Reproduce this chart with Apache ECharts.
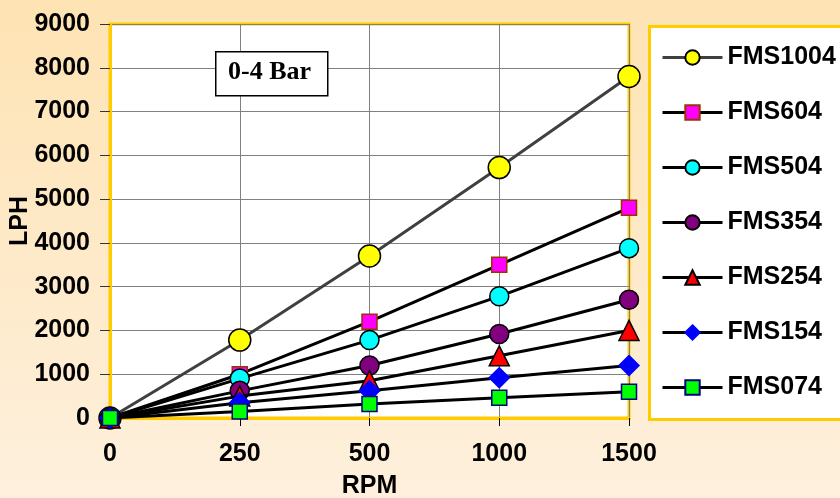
<!DOCTYPE html>
<html><head><meta charset="utf-8">
<script src="https://cdn.jsdelivr.net/npm/echarts@6/dist/echarts.min.js"></script>
<style>html,body{margin:0;padding:0;}#c{width:840px;height:498px;}</style>
</head><body><div id="c"></div>
<script>
const categories = ['0', '250', '500', '1000', '1500'];
const seriesNames = ['FMS1004', 'FMS604', 'FMS504', 'FMS354', 'FMS254', 'FMS154', 'FMS074'];
const fms1004 = [0, 1780, 3700, 5720, 7800];
const fms604 = [0, 1000, 2200, 3500, 4800];
const fms504 = [0, 900, 1780, 2780, 3880];
const fms354 = [0, 620, 1200, 1920, 2700];
const fms254 = [0, 500, 850, 1420, 2000];
const fms154 = [0, 350, 620, 920, 1200];
const fms074 = [0, 150, 320, 460, 600];
const yTicks = [0, 1000, 2000, 3000, 4000, 5000, 6000, 7000, 8000, 9000];

const values = [fms1004, fms604, fms504, fms354, fms254, fms154, fms074];
const styles = [
  {symbol: 'circle', size: 22, color: '#FFFF00', border: '#000000', line: '#404040'},
  {symbol: 'rect', size: 15, color: '#FF00FF', border: '#993300', line: '#000000'},
  {symbol: 'circle', size: 19, color: '#00FFFF', border: '#000000', line: '#000000'},
  {symbol: 'circle', size: 19, color: '#800080', border: '#000000', line: '#000000'},
  {symbol: 'triangle', size: 20, color: '#FF0000', border: '#000000', line: '#000000'},
  {symbol: 'diamond', size: 20, color: '#0000FF', border: '#0000FF', line: '#000000'},
  {symbol: 'rect', size: 15, color: '#00FF00', border: '#000080', line: '#000000'}
];

const chart = echarts.init(document.getElementById('c'));
const font = 'Liberation Sans, Arial, sans-serif';
chart.setOption({
  backgroundColor: {type: 'linear', x: 0, y: 0, x2: 0, y2: 1,
    colorStops: [{offset: 0, color: '#FEE3B3'}, {offset: 1, color: '#FEF0DD'}]},
  animation: false,
  graphic: [
    {type: 'rect', left: 648, top: 25, shape: {width: 200, height: 393},
     style: {fill: '#FFFFFF', stroke: '#FFCC00', lineWidth: 3}, z: 0},
    {type: 'rect', left: 215, top: 51, z: 10, shape: {width: 112, height: 44},
     style: {fill: '#FFFFFF', stroke: '#000000', lineWidth: 1.5}},
    {type: 'text', left: 228, top: 59, z: 11,
     style: {text: '0-4 Bar', fill: '#000', font: 'bold 26px "Liberation Serif", "Times New Roman", serif'}}
  ],
  grid: {left: 110, right: 211, top: 24, bottom: 80, show: true, containLabel: false,
    outerBoundsMode: 'none',
    backgroundColor: '#FFFFFF', borderColor: '#FFCC00', borderWidth: 3},
  legend: {
    orient: 'vertical', left: 661, top: 45, padding: 0, itemWidth: 60, itemHeight: 18, itemGap: 30,
    data: seriesNames,
    lineStyle: {width: 3},
    textStyle: {fontFamily: font, fontWeight: 'bold', fontSize: 25, color: '#000'}
  },
  xAxis: {
    type: 'category', data: categories, boundaryGap: false,
    name: 'RPM', nameLocation: 'middle', nameGap: 56, nameMoveOverlap: false,
    nameTextStyle: {fontFamily: font, fontWeight: 'bold', fontSize: 25, color: '#000'},
    axisLine: {lineStyle: {color: '#FFCC00', width: 3}},
    axisTick: {show: true, length: 8, lineStyle: {color: '#000'}},
    axisLabel: {fontFamily: font, fontWeight: 'bold', fontSize: 25, color: '#000', margin: 24},
    splitLine: {show: true, lineStyle: {color: '#808080', width: 1}}
  },
  yAxis: {
    type: 'value', min: 0, max: 9000, interval: 1000,
    name: 'LPH', nameLocation: 'middle', nameGap: 77, nameRotate: 90, nameMoveOverlap: false,
    nameTextStyle: {fontFamily: font, fontWeight: 'bold', fontSize: 25, color: '#000'},
    axisLine: {show: true, lineStyle: {color: '#FFCC00', width: 3}},
    axisTick: {show: true, length: 10, lineStyle: {color: '#333'}},
    axisLabel: {fontFamily: font, fontWeight: 'bold', fontSize: 25, color: '#000', margin: 20,
      formatter: v => yTicks.includes(v) ? String(v) : ''},
    splitLine: {show: true, lineStyle: {color: '#808080', width: 1}}
  },
  series: seriesNames.map((n, i) => ({
    name: n, type: 'line', data: values[i],
    symbol: styles[i].symbol, symbolSize: styles[i].size,
    lineStyle: {color: styles[i].line, width: 3},
    itemStyle: {color: styles[i].color, borderColor: styles[i].border, borderWidth: 1.5},
    z: 2 + i
  }))
});
</script></body></html>
